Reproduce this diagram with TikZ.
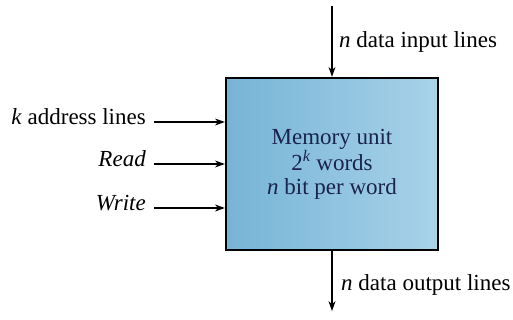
\documentclass[tikz,border=0pt]{standalone}
\usepackage{fontspec}
\setmainfont{Liberation Serif}
\usepackage{xcolor}
\definecolor{memdark}{RGB}{118,180,214}
\definecolor{memlight}{RGB}{168,210,233}
\definecolor{memtext}{RGB}{25,35,75}
\usetikzlibrary{arrows.meta,positioning,calc}

\begin{document}
\begin{tikzpicture}[x=1pt, y=1pt,
  mbox/.style={rectangle, draw=black, line width=2.2pt,
               left color=memdark, right color=memlight,
               minimum width=212pt, minimum height=172pt,
               font=\fontsize{23}{24}\selectfont, align=center, text=memtext},
  lbl/.style={font=\fontsize{23}{24}\selectfont, inner xsep=8pt, inner ysep=2pt},
  arr/.style={-{Stealth[length=10pt, width=7pt]}, line width=1.2pt}
]
\useasboundingbox (0,0) rectangle (513,320);

% Memory block
\node[mbox] (mem) at (332,156)
  {Memory unit\\2\textsuperscript{\textit{k}} words\\\textit{n} bit per word};

% Control inputs
\node[lbl, anchor=mid east] (addr)  at (154,198) {\textit{k} address lines};
\node[lbl, anchor=mid east] (read)  at (154,156) {\textit{Read}};
\node[lbl, anchor=mid east] (write) at (154,112) {\textit{Write}};

\draw[arr] (addr.mid east)  -- (addr.mid east -| mem.west);
\draw[arr] (read.mid east)  -- (read.mid east -| mem.west);
\draw[arr] (write.mid east) -- (write.mid east -| mem.west);

% Data lines
\coordinate[above=71pt of mem.north] (din);
\coordinate[below=60pt of mem.south] (dout);
\draw[arr] (din) -- (mem.north);
\draw[arr] (mem.south) -- (dout);

\node[lbl, anchor=mid west, inner xsep=4pt] (inlbl)  at (335,275) {\textit{n} data input lines};
\node[lbl, anchor=mid west, inner xsep=4pt] (outlbl) at (337,32)  {\textit{n} data output lines};
\end{tikzpicture}
\end{document}
